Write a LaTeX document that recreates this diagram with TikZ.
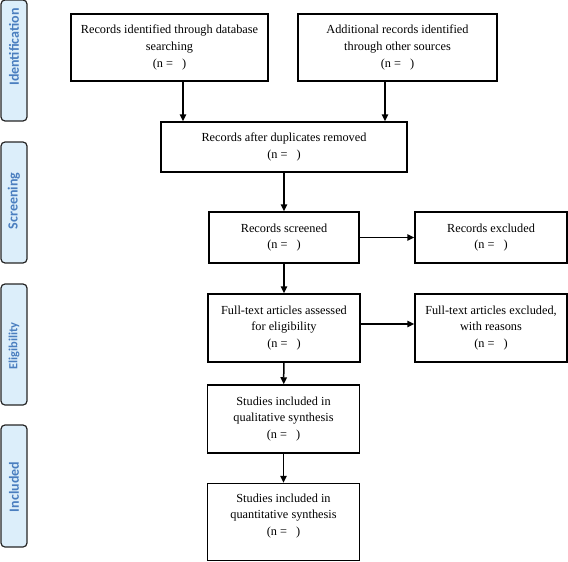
\documentclass[tikz,border=0pt]{standalone}
\usepackage{fontspec}
\setmainfont{Liberation Serif}
\newfontfamily\sidefont{Carlito}
\usetikzlibrary{arrows.meta}
\definecolor{sideblue}{HTML}{4A7EBF}
\definecolor{sidefill}{HTML}{DCEEFA}
\tikzset{
  box/.style={draw=black, line width=1.5pt, fill=white, align=center, inner sep=0pt,
    font=\fontsize{12.3}{16.6}\selectfont},
  sidebox/.style={draw=black!85, line width=1.2pt, fill=sidefill, rounded corners=4pt, inner sep=0pt},
  sidetext/.style={rotate=90, text=sideblue, font=\sidefont\bfseries\fontsize{14}{16}\selectfont, inner sep=0pt},
  arr/.style={line width=1.5pt, -{Triangle[length=7pt,width=6.5pt]}},
}
\newcommand{\nn}{(n = \hspace{6pt})}
\begin{document}
\begin{tikzpicture}[x=1pt,y=-1pt]
\useasboundingbox (0,0) rectangle (568,562);
% side labels
\node[sidebox, minimum width=26pt, minimum height=121pt] (s1) at (14,60.5) {};
\node[sidetext] (t1) at (14,47) {Identification};
\node[sidebox, minimum width=26pt, minimum height=121pt] (s2) at (14,202.5) {};
\node[sidetext] (t2) at (14,201) {Screening};
\node[sidebox, minimum width=26pt, minimum height=121pt] (s3) at (14,344.5) {};
\node[sidetext, font=\sidefont\bfseries\fontsize{12.4}{14}\selectfont] (t3) at (14,346) {Eligibility};
\node[sidebox, minimum width=26pt, minimum height=122pt] (s4) at (14,486) {};
\node[sidetext] (t4) at (14,487) {Included};
% boxes
\node[box, minimum width=197pt, minimum height=67pt] (b1) at (169.5,47.5)
  {Records identified through database\\searching\\\nn};
\node[box, minimum width=199pt, minimum height=67pt] (b2) at (397.5,47.5)
  {Additional records identified\\through other sources\\\nn};
\node[box, minimum width=246pt, minimum height=50pt] (b3) at (284,147)
  {Records after duplicates removed\\\nn};
\node[box, minimum width=150pt, minimum height=51pt] (b4) at (284,237.5)
  {Records screened\\\nn};
\node[box, minimum width=152pt, minimum height=51pt] (b5) at (491,237.5)
  {Records excluded\\\nn};
\node[box, minimum width=152pt, minimum height=68pt] (b6) at (284,328)
  {Full-text articles assessed\\for eligibility\\\nn};
\node[box, minimum width=152pt, minimum height=68pt] (b7) at (491,328)
  {Full-text articles excluded,\\with reasons\\\nn};
\node[box, minimum width=152pt, minimum height=68pt] (b8) at (283.5,419)
  {Studies included in\\qualitative synthesis\\\nn};
\node[box, minimum width=152pt, minimum height=77pt] (b9) at (283.5,522) {};
\node[align=center, inner sep=0pt, font=\fontsize{12.3}{16.6}\selectfont] (t9) at (283.5,516)
  {Studies included in\\quantitative synthesis\\\nn};
% arrows
\draw[arr] (b1.south -| 183,0) -- (b3.north -| 183,0);
\draw[arr] (b2.south -| 385,0) -- (b3.north -| 385,0);
\draw[arr] (b3) -- (b4);
\draw[arr] (b4) -- (b5);
\draw[arr] (b4) -- (b6);
\draw[arr] ([yshift=4pt]b6.east) -- ([yshift=4pt]b7.west);
\draw[arr] (b6) -- (b8);
\draw[arr] (b8) -- (b9);
\end{tikzpicture}
\end{document}
